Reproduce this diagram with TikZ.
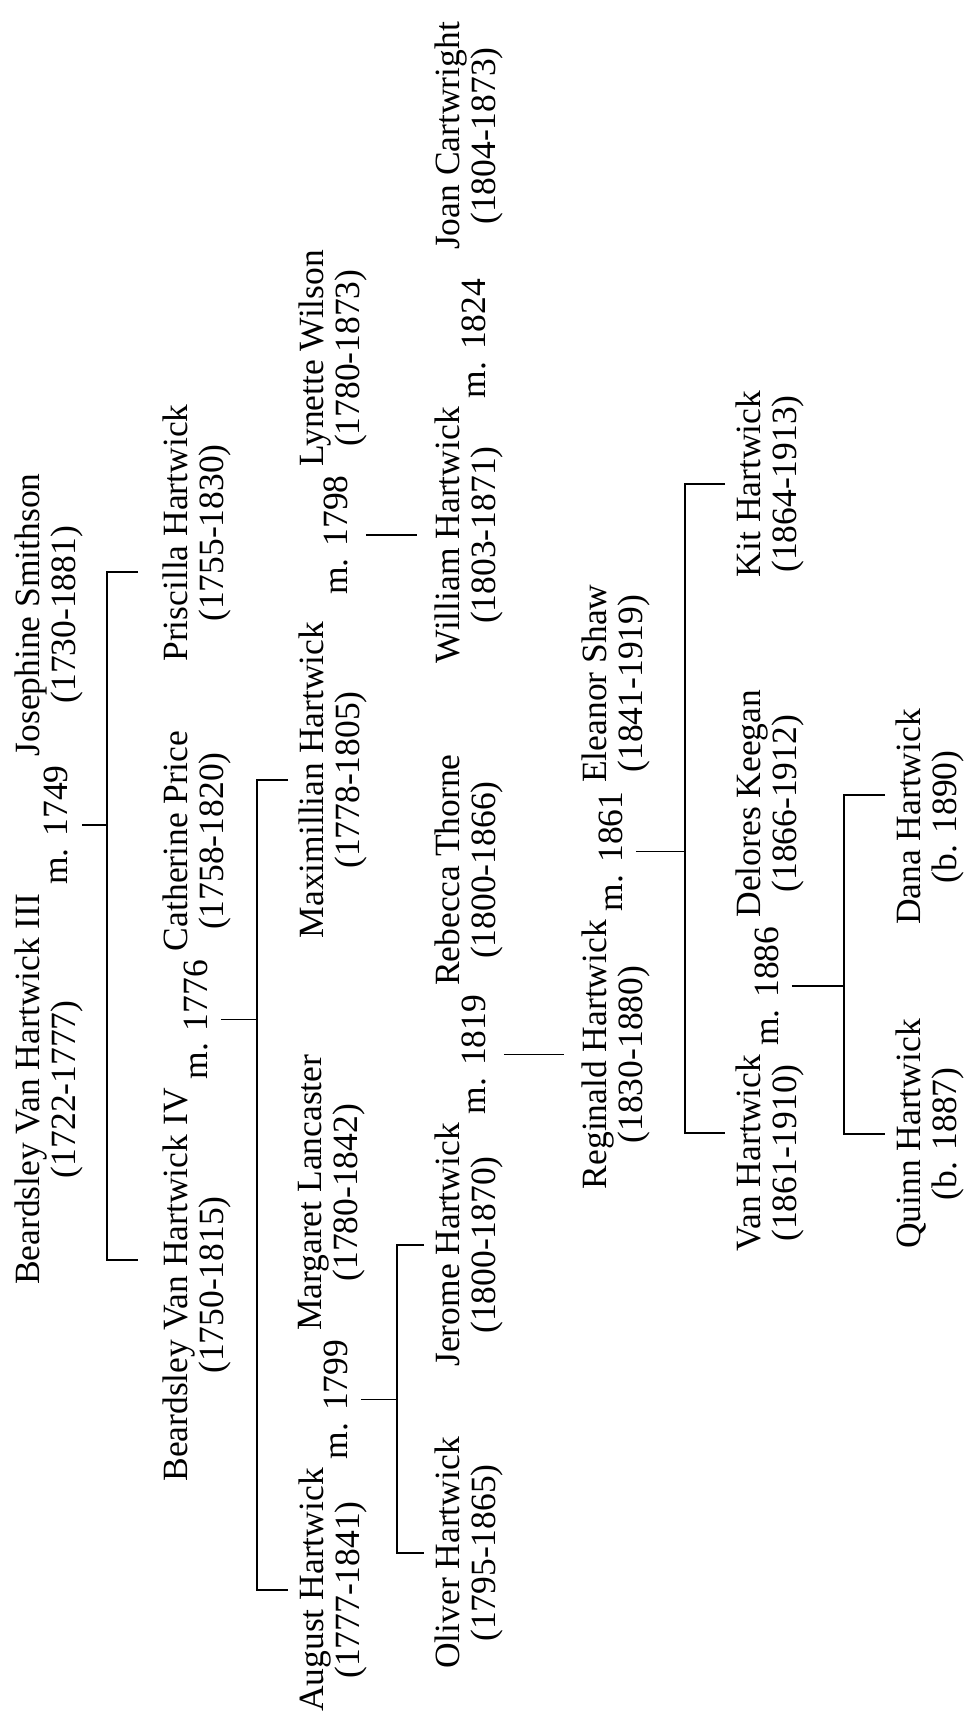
\documentclass[tikz,border=0pt]{standalone}
\usepackage{fontspec}
\setmainfont{Liberation Serif}
\begin{document}
\begin{tikzpicture}[x=0.4pt,y=0.4pt,line width=0.6pt,
    person/.style={rotate=90,inner sep=0pt,align=center,font=\fontsize{14.2}{14.4}\selectfont},
    wed/.style={rotate=90,inner xsep=3pt,inner ysep=0pt,font=\fontsize{14.2}{14.4}\selectfont},
    tie/.style={shorten <=5pt},
    kids/.style={shorten <=4pt,shorten >=4pt},
    lone/.style={shorten <=7pt,shorten >=7pt}]
  \useasboundingbox (0,0) rectangle (971,1728);
  % first generation
  \node[wed,anchor=base] (m1749) at (68,903) {m. 1749};
  \node[person,anchor=north east] (bvh3) at (14,0 |- m1749.west)
    {Beardsley Van Hartwick III\\(1722-1777)};
  \node[person,anchor=north west] (jos) at (14,0 |- m1749.east)
    {Josephine Smithson\\(1730-1881)};
  \coordinate (f1) at (107,0 |- m1749.south);
  % second generation
  \node[person,anchor=north] (pris) at (162,1195) {Priscilla Hartwick\\(1755-1830)};
  \node[person,anchor=north] (bvh4) at (162,443) {Beardsley Van Hartwick IV\\(1750-1815)};
  \node[wed,anchor=base west] (m1776) at (207,0 |- bvh4.east) {m. 1776};
  \node[person,anchor=north west] (cath) at (162,0 |- m1776.east)
    {Catherine Price\\(1758-1820)};
  \coordinate (f2) at (257,0 |- m1776.south);
  \coordinate (pris-in) at ([yshift=-15.6pt]pris.north);
  \coordinate (bvh4-in) at ([yshift=10pt]bvh4.north);
  % third generation
  \node[person,anchor=north] (maxi) at (298,948) {Maximillian Hartwick\\(1778-1805)};
  \coordinate (maxi-end) at ([yshift=7.2pt]maxi.east);
  \node[wed,anchor=base west] (m1798) at (347,0 |- maxi-end) {m. 1798};
  \node[person,anchor=north west] (lyn) at (298,0 |- m1798.east)
    {Lynette Wilson\\(1780-1873)};
  \node[person,anchor=north] (aug) at (298,138) {August Hartwick\\(1777-1841)};
  \node[wed,anchor=base west] (m1799) at (347,0 |- aug.east) {m. 1799};
  \node[person,anchor=north west] (marg) at (298,0 |- m1799.east)
    {Margaret Lancaster\\(1780-1842)};
  \coordinate (f3) at (397,0 |- m1799.south);
  % fourth generation
  \node[person,anchor=north] (will) at (434,0 |- m1798.south) {William Hartwick\\(1803-1871)};
  \node[wed,anchor=base west] (m1824) at (485,0 |- will.east) {m. 1824};
  \coordinate (m1824-end) at ([yshift=8pt]m1824.east);
  \node[person,anchor=north west] (joan) at (434,0 |- m1824-end)
    {Joan Cartwright\\(1804-1873)};
  \node[person,anchor=north] (jer) at (434,483) {Jerome Hartwick\\(1800-1870)};
  \node[wed,anchor=base west] (m1819) at (485,0 |- jer.east) {m. 1819};
  \node[person,anchor=north west] (reb) at (434,0 |- m1819.east)
    {Rebecca Thorne\\(1800-1866)};
  \node[person,anchor=north] (oli) at (434,175) {Oliver Hartwick\\(1795-1865)};
  % fifth generation
  \node[person,anchor=north] (reg) at (581,0 |- m1819.south) {Reginald Hartwick\\(1830-1880)};
  \node[wed,anchor=base west] (m1861) at (622,0 |- reg.east) {m. 1861};
  \node[person,anchor=north west] (ele) at (581,0 |- m1861.east)
    {Eleanor Shaw\\(1841-1919)};
  \coordinate (f5) at (685,0 |- m1861.south);
  % sixth generation
  \node[person,anchor=north] (kit) at (735,1244) {Kit Hartwick\\(1864-1913)};
  \node[person,anchor=north] (van) at (735,575) {Van Hartwick\\(1861-1910)};
  \node[wed,anchor=base west] (m1886) at (778,0 |- van.east) {m. 1886};
  \node[person,anchor=north west] (del) at (735,0 |- m1886.east)
    {Delores Keegan\\(1866-1912)};
  \coordinate (f6) at (844,0 |- m1886.south);
  \coordinate (van-in) at ([yshift=8pt]van.north);
  % seventh generation
  \node[person,anchor=north] (dana) at (895,911) {Dana Hartwick\\(b. 1890)};
  \node[person,anchor=north] (quinn) at (895,594) {Quinn Hartwick\\(b. 1887)};
  \coordinate (dana-in) at ([yshift=8.8pt]dana.north);
  % lines of descent
  \draw[tie] (m1749.south) -- (f1);
  \draw[shorten <=9.6pt,shorten >=9.6pt]
    (pris-in) -- (f1 |- pris-in) -- (f1 |- bvh4-in) -- (bvh4-in);
  \draw[tie] (m1776.south) -- (f2);
  \draw[kids] (maxi.north) -- (f2 |- maxi.north) -- (f2 |- aug.north) -- (aug.north);
  \draw[lone] (m1798.south) -- (will.north);
  \draw[tie] (m1799.south) -- (f3);
  \draw[kids] (jer.north) -- (f3 |- jer.north) -- (f3 |- oli.north) -- (oli.north);
  \draw[lone] (m1819.south) -- (reg.north);
  \draw[tie] (m1861.south) -- (f5);
  \draw[kids] (kit.north) -- (f5 |- kit.north) -- (f5 |- van-in) -- (van-in);
  \draw[tie] (m1886.south) -- (f6);
  \draw[kids] (dana-in) -- (f6 |- dana-in) -- (f6 |- quinn.north) -- (quinn.north);
\end{tikzpicture}
\end{document}
